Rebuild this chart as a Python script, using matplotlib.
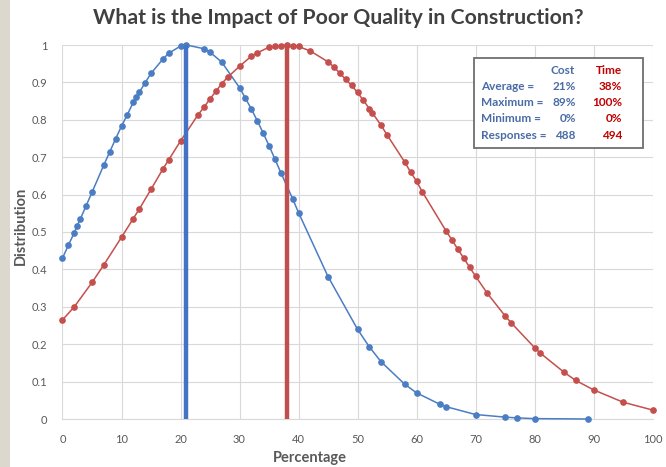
import matplotlib
matplotlib.use("Agg")
import matplotlib.pyplot as plt
from matplotlib.patches import Rectangle

# Cost distribution (blue)
cost_x = [0, 1, 2, 2.5, 3, 4, 5, 7, 8, 9, 10, 11, 12, 12.5, 13, 14, 15, 17, 18, 20,
          21, 24, 25, 27, 30, 31, 32, 33, 34, 35, 36, 37, 39, 40, 45, 50, 52, 54,
          58, 60, 64, 65, 70, 75, 77, 80, 89]
cost_y = [0.43, 0.465, 0.498, 0.517, 0.534, 0.570, 0.606, 0.679, 0.714, 0.749, 0.783,
          0.814, 0.847, 0.860, 0.873, 0.899, 0.924, 0.962, 0.978, 0.997, 1.0, 0.990,
          0.981, 0.954, 0.886, 0.858, 0.829, 0.798, 0.765, 0.731, 0.695, 0.659, 0.589,
          0.552, 0.381, 0.240, 0.193, 0.153, 0.093, 0.070, 0.039, 0.033, 0.012, 0.005,
          0.003, 0.001, 0.0]

# Time distribution (red)
time_x = [0, 2, 5, 7, 10, 12, 13, 15, 17, 18, 20, 23, 24, 25, 26, 27, 28, 30, 32, 33,
          35, 36, 37, 38, 39, 40, 42, 45, 46, 47, 48, 49, 50, 51, 52, 52.5, 54, 55,
          58, 59, 60, 61, 65, 66, 67, 68, 69, 70, 72, 75, 76, 80, 81, 85, 87, 90, 95, 100]
time_y = [0.265, 0.30, 0.365, 0.412, 0.486, 0.536, 0.561, 0.614, 0.668, 0.693, 0.743,
          0.814, 0.834, 0.856, 0.876, 0.897, 0.914, 0.943, 0.970, 0.979, 0.994, 0.996,
          0.998, 1.0, 0.998, 0.996, 0.984, 0.955, 0.941, 0.925, 0.908, 0.892, 0.873,
          0.852, 0.830, 0.819, 0.785, 0.760, 0.687, 0.660, 0.636, 0.607, 0.503, 0.479,
          0.454, 0.430, 0.406, 0.382, 0.336, 0.276, 0.258, 0.191, 0.176, 0.125, 0.103,
          0.078, 0.045, 0.024]

cost_avg = 21
time_avg = 38

stat_labels = ["Average =", "Maximum =", "Minimum =", "Responses ="]
cost_stats = ["21%", "89%", "0%", "488"]
time_stats = ["38%", "100%", "0%", "494"]

blue = "#4A7DC4"
red = "#C44F4C"
grey = "#595959"
txt_blue = "#4A6BA6"
txt_red = "#C00000"

plt.rcParams['font.family'] = ['Lato', 'DejaVu Sans']

W, H = 666, 467
fig = plt.figure(figsize=(W / 100, H / 100), dpi=100)
fig.patch.set_facecolor("white")

# beige strip on the left edge
fig.patches.append(Rectangle((0, 0), 10 / W, 1, transform=fig.transFigure,
                             facecolor="#DCD8CE", edgecolor="none", zorder=0))

def px(x, y):
    return x / W, 1 - y / H

l, r, b, t = 62.5, 652.5, 419, 45
ax = fig.add_axes([l / W, (H - b) / H, (r - l) / W, (b - t) / H])

ax.plot(cost_x, cost_y, color=blue, lw=1.1, marker="o", ms=3.8, clip_on=False, zorder=3)
ax.plot(time_x, time_y, color=red, lw=1.1, marker="o", ms=3.8, clip_on=False, zorder=3)
ax.vlines(cost_avg, 0, 1, color="#4472C4", lw=3.2, zorder=4)
ax.vlines(time_avg, 0, 1, color="#C0504D", lw=3.2, zorder=4)

ax.set_xlim(0, 100)
ax.set_ylim(0, 1)
ax.set_xticks(range(0, 101, 10))
ax.set_yticks([i / 10 for i in range(11)])
ax.set_yticklabels([f"{i / 10:g}" for i in range(11)])
ax.grid(True, color="#D9D9D9", lw=0.8)
ax.set_axisbelow(True)
for s in ["top", "right", "left"]:
    ax.spines[s].set_visible(False)
ax.spines["bottom"].set_color("#D9D9D9")
ax.tick_params(axis="x", length=0, labelsize=8, colors=grey, pad=11)
ax.tick_params(axis="y", length=0, labelsize=8, colors=grey, pad=11)

# axis titles
fig.text(*px(310, 458), "Percentage", ha="center", va="center", fontsize=10.5,
         fontweight="bold", color=grey)
fig.text(*px(21, 226), "Distribution", ha="center", va="center", fontsize=10.5,
         fontweight="bold", color=grey, rotation=90)

fig.text(*px(338, 18), "What is the Impact of Poor Quality in Construction?",
         ha="center", va="center", fontsize=15.3, fontweight="bold", color="#404040")

# stats box
ax.add_patch(Rectangle(px(474, 148), (643 - 474) / W, (148 - 58) / H,
                       transform=fig.transFigure, facecolor="white",
                       edgecolor="#6E6E6E", lw=1.3, zorder=5))
fig.text(*px(575, 70), "Cost", ha="right", va="center", fontsize=8.5,
         fontweight="bold", color=txt_blue, zorder=6)
fig.text(*px(622, 70), "Time", ha="right", va="center", fontsize=8.5,
         fontweight="bold", color=txt_red, zorder=6)
for i, lab in enumerate(stat_labels):
    y = 86.5 + i * 16.2
    fig.text(*px(481, y), lab, ha="left", va="center", fontsize=8.5,
             fontweight="bold", color=txt_blue, zorder=6)
    fig.text(*px(576, y), cost_stats[i], ha="right", va="center", fontsize=8.5,
             fontweight="bold", color=txt_blue, zorder=6)
    fig.text(*px(622, y), time_stats[i], ha="right", va="center", fontsize=8.5,
             fontweight="bold", color=txt_red, zorder=6)

fig.savefig("out.png", dpi=100)
